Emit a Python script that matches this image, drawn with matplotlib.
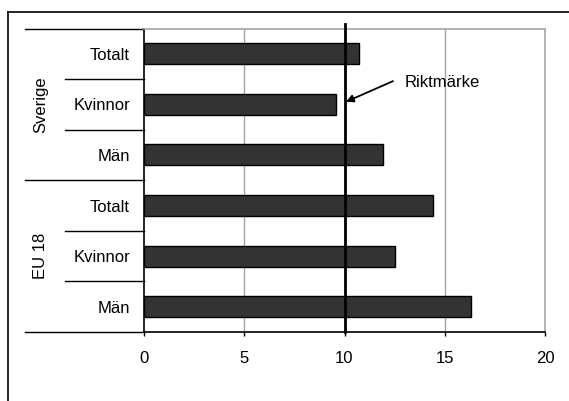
import matplotlib
matplotlib.use("Agg")
import matplotlib.pyplot as plt
from matplotlib.lines import Line2D
import numpy as np

plt.rcParams['font.family'] = ['Liberation Sans', 'DejaVu Sans']

groups = ['Sverige', 'EU 18']
categories = ['Totalt', 'Kvinnor', 'Män', 'Totalt', 'Kvinnor', 'Män']
values = [10.7, 9.6, 11.9, 14.4, 12.5, 16.3]
benchmark = 10
benchmark_label = 'Riktmärke'
xticks = [0, 5, 10, 15, 20]

fig = plt.figure(figsize=(5.69, 4.01), dpi=100)
ax = fig.add_axes([144 / 569, 1 - 332 / 401, 401 / 569, 303.5 / 401])

y = np.arange(len(categories))
ax.barh(y, values, height=0.415, color='#333333', edgecolor='black', linewidth=1, zorder=3)

ax.set_xlim(0, 20)
ax.set_ylim(len(categories) - 0.5, -0.5)
ax.set_xticks(xticks)
ax.set_yticks(y)
ax.set_yticklabels(categories)
ax.tick_params(axis='y', length=0, pad=10, labelsize=12)
ax.tick_params(axis='x', length=3, width=1, direction='out', pad=11, labelsize=12)

for xv in xticks[1:-1]:
    ax.axvline(xv, color='#a6a6a6', linewidth=1, zorder=1)
for s in ['top', 'right']:
    ax.spines[s].set_color('#a6a6a6')
    ax.spines[s].set_linewidth(1.2)
for s in ['left', 'bottom']:
    ax.spines[s].set_color('black')
    ax.spines[s].set_linewidth(1.2)

# category separators on the left
tr = ax.get_yaxis_transform()
for yb in [-0.5, 2.5, 5.5]:
    ax.plot([-0.297, 0], [yb, yb], color='black', linewidth=1, transform=tr, clip_on=False)
for yb in [0.5, 1.5, 3.5, 4.5]:
    ax.plot([-0.197, 0], [yb, yb], color='black', linewidth=1, transform=tr, clip_on=False)
for i, g in enumerate(groups):
    ax.text(-0.257, 3 * i + 1, g, rotation=90, ha='center', va='center',
            fontsize=12, transform=tr)

# benchmark line
ax.plot([benchmark, benchmark], [len(categories) - 0.5, -0.58], color='black',
        linewidth=2, zorder=4, clip_on=False)
ax.annotate('', xy=(10.07, 0.95), xytext=(12.42, 0.54),
            arrowprops=dict(arrowstyle='-|>', color='black', lw=1.3,
                            mutation_scale=11, shrinkA=0, shrinkB=0))
ax.text(13.02, 0.56, benchmark_label, ha='left', va='center', fontsize=12)

# outer frame
fig.add_artist(Line2D([8 / 569, 8 / 569], [0, 1 - 11.5 / 401], color='black', linewidth=1.2))
fig.add_artist(Line2D([8 / 569, 1], [1 - 11.5 / 401, 1 - 11.5 / 401], color='black', linewidth=1.2))

fig.savefig('out.png', dpi=100)
